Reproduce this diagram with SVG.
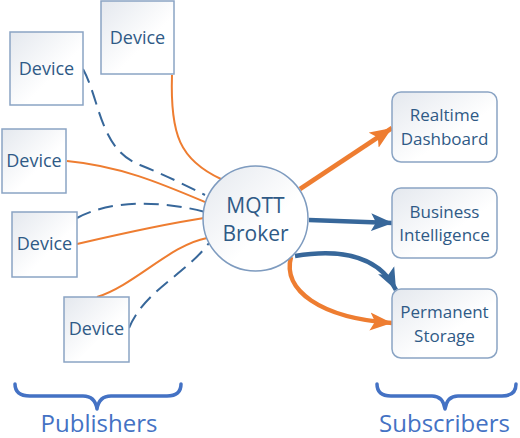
<svg xmlns="http://www.w3.org/2000/svg" width="520" height="438" viewBox="0 0 520 438">
<defs>
<linearGradient id="g" x1="0" y1="0" x2="1" y2="1">
<stop offset="0" stop-color="#e4e8ee"/>
<stop offset="0.6" stop-color="#ffffff"/>
</linearGradient>
<marker id="ao" markerUnits="userSpaceOnUse" markerWidth="24" markerHeight="20" refX="22" refY="10" orient="auto">
<path d="M0,1 L22,10 L0,19 L5,10 Z" fill="#ee7d31"/>
</marker>
<marker id="ab" markerUnits="userSpaceOnUse" markerWidth="24" markerHeight="20" refX="22" refY="10" orient="auto">
<path d="M0,1 L22,10 L0,19 L5,10 Z" fill="#37679a"/>
</marker>
</defs>
<style>
.dev{fill:url(#g);stroke:#8aa4c4;stroke-width:1.5}
.lbl{font-family:"Open Sans","Noto Sans",sans-serif;font-size:17px;fill:#2f5a86;text-anchor:middle}
.dl{font-size:18px}
.big{font-family:"Open Sans","Noto Sans",sans-serif;font-size:24px;fill:#4472c4;text-anchor:middle}
.brk{fill:none;stroke:#4472c4;stroke-width:3.5;stroke-linecap:round;stroke-linejoin:round}
.o{fill:none;stroke:#ee7d31;stroke-width:2}
.b{fill:none;stroke:#37679a;stroke-width:2;stroke-dasharray:15 8}
.ot{fill:none;stroke:#ee7d31;stroke-width:4.5}
.bt{fill:none;stroke:#37679a;stroke-width:4.5}
</style>
<g id="connectors">
<path class="o" d="M172,75 C170,135 180,160 221,179"/>
<path class="b" d="M83,69 C100,100 100,150 140,165 C165,175 185,185 205,195"/>
<path class="o" d="M67,161 C120,166 160,183 205,202"/>
<path class="b" d="M77,218 C110,200 160,200 205,212"/>
<path class="o" d="M77,244 C120,234 165,224 204,218"/>
<path class="o" d="M97,297 C135,285 170,245 207,238"/>
<path class="b" d="M129,328 C145,290 185,275 209,243"/>
<path class="ot" d="M300,189 L392,128" marker-end="url(#ao)"/>
<path class="bt" d="M309,220 L393,223" marker-end="url(#ab)"/>
<path class="bt" d="M295,256 C345,248 380,258 396,290" marker-end="url(#ab)"/>
<path class="ot" d="M291,257 C282,290 320,318 392,323" marker-end="url(#ao)"/>
</g>
<g id="device1"><rect class="dev" x="101" y="1" width="73" height="73"/><text class="lbl dl" x="137.5" y="44">Device</text></g>
<g id="device2"><rect class="dev" x="10" y="32" width="73" height="73"/><text class="lbl dl" x="46.5" y="75">Device</text></g>
<g id="device3"><rect class="dev" x="2" y="129" width="64" height="64"/><text class="lbl dl" x="34" y="167">Device</text></g>
<g id="device4"><rect class="dev" x="12" y="212" width="65" height="65"/><text class="lbl dl" x="44.5" y="250">Device</text></g>
<g id="device5"><rect class="dev" x="64" y="297" width="65" height="65"/><text class="lbl dl" x="96.5" y="335">Device</text></g>
<g id="broker"><circle cx="255.5" cy="218.5" r="52.5" fill="url(#g)" stroke="#7e9bbf" stroke-width="1.5"/><text class="lbl" x="255.5" y="213" style="font-size:21px">MQTT</text><text class="lbl" x="255.5" y="241" style="font-size:21px">Broker</text></g>
<g id="dashboard"><rect class="dev" x="392" y="92" width="105" height="70" rx="9"/><text class="lbl" x="444.5" y="121">Realtime</text><text class="lbl" x="444.5" y="145">Dashboard</text></g>
<g id="bi"><rect class="dev" x="392" y="188" width="105" height="70" rx="9"/><text class="lbl" x="444.5" y="218">Business</text><text class="lbl" x="444.5" y="241">Intelligence</text></g>
<g id="storage"><rect class="dev" x="392" y="289" width="105" height="69" rx="9"/><text class="lbl" x="444.5" y="318">Permanent</text><text class="lbl" x="444.5" y="342">Storage</text></g>
<g id="publishers"><path class="brk" d="M15,384 Q15,396 30,396 L83,396 Q95,396 97,409 Q99,396 111,396 L167,396 Q181,396 181,384"/><text class="big" x="99" y="432">Publishers</text></g>
<g id="subscribers"><path class="brk" d="M377,384 Q377,396 391,396 L432,396 Q443,396 445,409 Q447,396 458,396 L502,396 Q516,396 516,384"/><text class="big" x="444.5" y="432">Subscribers</text></g>
</svg>
